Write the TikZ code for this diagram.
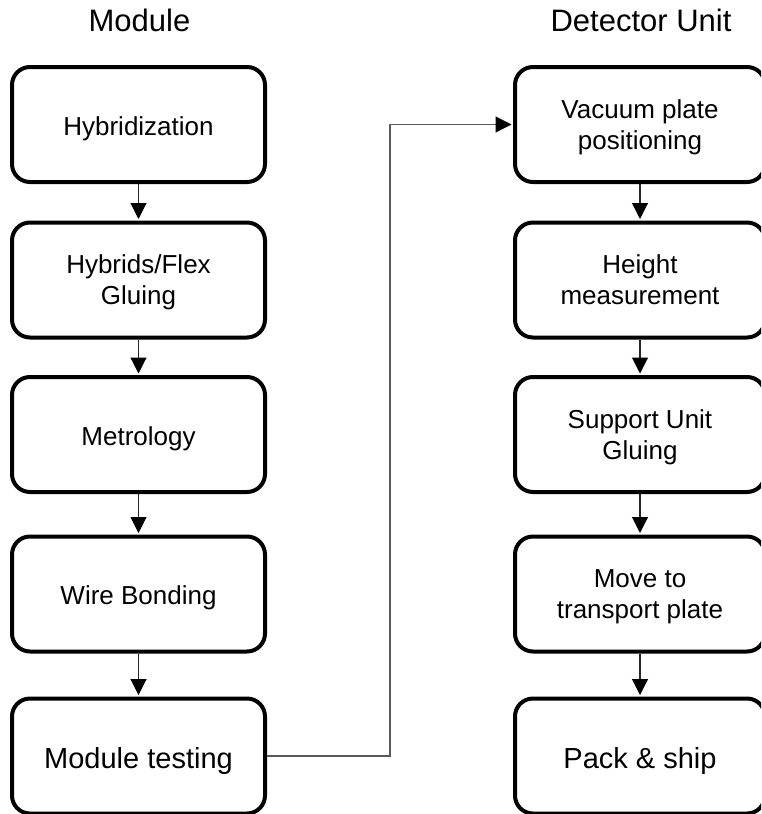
\documentclass[tikz,border=0pt]{standalone}
\usepackage{fontspec}
\setmainfont{Liberation Sans}
\usetikzlibrary{arrows.meta}
\begin{document}
\begin{tikzpicture}[x=1pt,y=-1pt,
  stepbox/.style={draw=black,line width=4pt,rounded corners=18pt,fill=white,
    rectangle,minimum width=253pt,minimum height=115pt,inner sep=0pt,
    align=center,font=\fontsize{26}{31}\selectfont,
    text height=21pt,text depth=0pt},
  twoline/.style={text height=49pt,text depth=0pt},
  bigtext/.style={font=\fontsize{29}{34}\selectfont,
    text height=24pt,text depth=0pt},
  title/.style={font=\fontsize{31}{36}\selectfont,anchor=base},
  tip/.style={-{Triangle[width=16pt,length=16pt,color=black]}},
  flow/.style={draw=black!85,line width=1.1pt,tip,shorten >=1.5pt},
  link/.style={draw=black!65,line width=1.1pt,tip,shorten >=1.5pt}]
  \useasboundingbox (0,0) rectangle (761,814);
  \clip (0,0) rectangle (761,814);

  % column headings
  \node[title] (hmod) at (139.5,31) {Module};
  \node[title] (hdet) at (641,31) {Detector Unit};

  % module assembly column
  \node[stepbox] (hyb) at (138.5,124.5) {Hybridization};
  \node[stepbox,twoline] (glue) at (138.5,280) {Hybrids/Flex\\Gluing};
  \node[stepbox] (metro) at (138.5,434.5) {Metrology};
  \node[stepbox] (wire) at (138.5,594) {Wire Bonding};
  \node[stepbox,bigtext] (mtest) at (138.5,756) {Module testing};

  % detector unit column
  \node[stepbox,twoline,minimum width=250pt] (vac) at (640,124.5) {Vacuum plate\\positioning};
  \node[stepbox,twoline,minimum width=250pt] (height) at (640,280) {Height\\measurement};
  \node[stepbox,twoline,minimum width=250pt] (sup) at (640,434.5) {Support Unit\\Gluing};
  \node[stepbox,twoline,minimum width=250pt] (move) at (640,594) {Move to\\transport plate};
  \node[stepbox,bigtext,minimum width=250pt] (pack) at (640,756) {Pack \& ship};

  % vertical flow
  \draw[flow] (hyb) -- (glue);
  \draw[flow] (glue) -- (metro);
  \draw[flow] (metro) -- (wire);
  \draw[flow] (wire) -- (mtest);
  \draw[flow] (vac) -- (height);
  \draw[flow] (height) -- (sup);
  \draw[flow] (sup) -- (move);
  \draw[flow] (move) -- (pack);

  % hand-over from module testing to the detector unit
  \coordinate (elbow) at (390,440);
  \draw[link] (mtest.east) -| (elbow) |- (vac.west);
\end{tikzpicture}
\end{document}
